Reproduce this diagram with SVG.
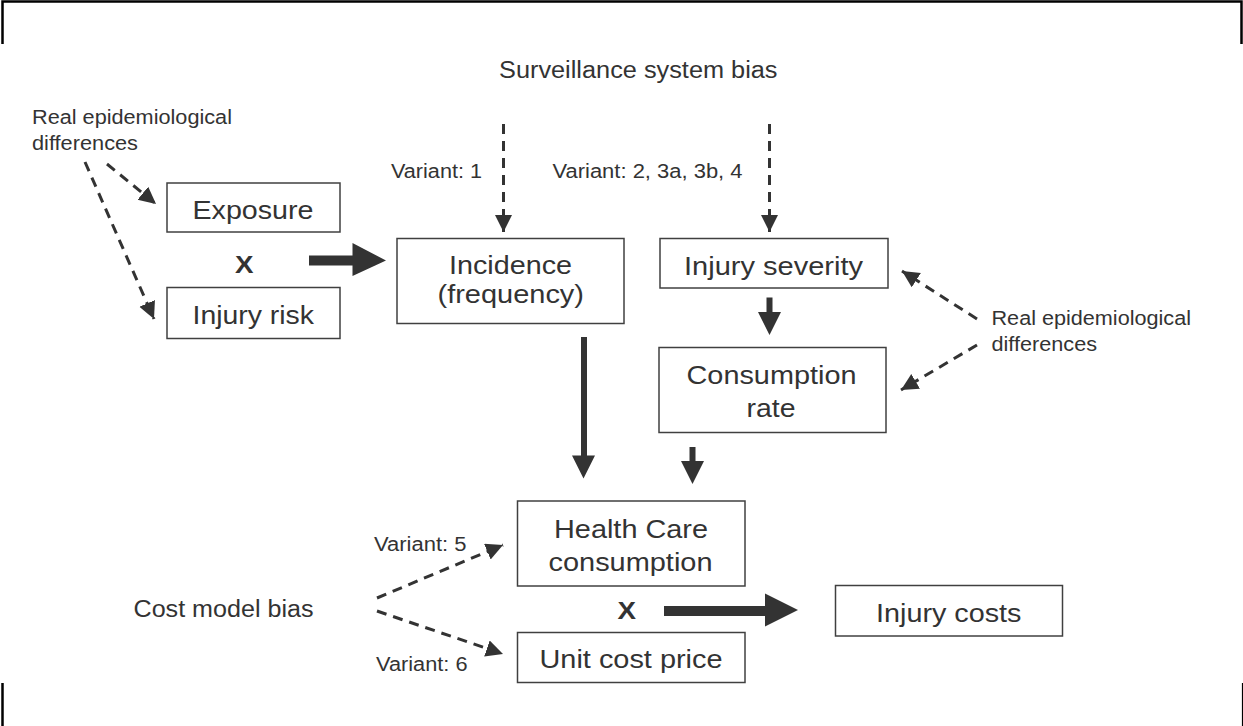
<svg xmlns="http://www.w3.org/2000/svg" width="1243" height="726" viewBox="0 0 1243 726">
<style>
.box{fill:#fff;stroke:#404040;stroke-width:1.5}
.t{font-family:"Liberation Sans",Arial,sans-serif;fill:#333}
.big{font-size:26px}
.med{font-size:23px}
.sm{font-size:20px}
.dash{fill:none;stroke:#333;stroke-width:3;stroke-dasharray:10 7}
.solid{fill:#333}
.frame{stroke:#000;stroke-width:2.5;fill:none}
</style>
<defs>
<marker id="ah" markerUnits="userSpaceOnUse" markerWidth="18" markerHeight="18" refX="17" refY="8.5" orient="auto" viewBox="0 0 18 18">
<path d="M0,0 L17,8.5 L0,17 z" fill="#333"/>
</marker>
</defs>
<g id="frame">
<path class="frame" d="M2.5,44 V1.5 H1241.5 V44"/>
<path class="frame" d="M2.5,683 V726"/>
<path d="M1242.5,683 V726" stroke="#000" stroke-width="1.2" fill="none"/>
</g>
<g id="connectors">
<line class="dash" x1="503.5" y1="124" x2="503.5" y2="232" marker-end="url(#ah)"/>
<line class="dash" x1="769.5" y1="124" x2="769.5" y2="232" marker-end="url(#ah)"/>
<line class="dash" x1="107" y1="164" x2="156" y2="204" marker-end="url(#ah)"/>
<line class="dash" x1="85" y1="162" x2="154" y2="319" marker-end="url(#ah)"/>
<line class="dash" x1="977" y1="319" x2="902" y2="271" marker-end="url(#ah)"/>
<line class="dash" x1="977" y1="345" x2="901" y2="390" marker-end="url(#ah)"/>
<line class="dash" x1="377" y1="598" x2="503" y2="545" marker-end="url(#ah)"/>
<line class="dash" x1="377" y1="611" x2="503" y2="654" marker-end="url(#ah)"/>
<polygon class="solid" points="309,255.5 352.5,255.5 352.5,243 386,260.5 352.5,276 352.5,265.5 309,265.5"/>
<polygon class="solid" points="664,606 765,606 765,593.5 798,610 765,626.5 765,616 664,616"/>
<polygon class="solid" points="581,337 587,337 587,455.5 595,455.5 583.5,478.5 572,455.5 581,455.5"/>
<polygon class="solid" points="689.5,447 695.5,447 695.5,461 704,461 692.5,484 681,461 689.5,461"/>
<polygon class="solid" points="766.5,297.5 772.5,297.5 772.5,312 781,312 769.5,335 758,312 766.5,312"/>
</g>
<g id="exposure">
<rect class="box" x="167" y="183" width="173" height="49"/>
<text class="t big" x="192.5" y="218.5" textLength="121" lengthAdjust="spacingAndGlyphs">Exposure</text>
</g>
<g id="injury-risk">
<rect class="box" x="167" y="287.5" width="173" height="51"/>
<text class="t big" x="192.5" y="323.5" textLength="121.5" lengthAdjust="spacingAndGlyphs">Injury risk</text>
</g>
<g id="x1"><text class="t" x="235" y="272.5" font-size="24" font-weight="bold" textLength="18.5" lengthAdjust="spacingAndGlyphs">X</text></g>
<g id="incidence">
<rect class="box" x="397" y="238.5" width="227" height="85"/>
<text class="t big" x="449" y="273.5" textLength="123" lengthAdjust="spacingAndGlyphs">Incidence</text>
<text class="t big" x="437.5" y="303" textLength="146.5" lengthAdjust="spacingAndGlyphs">(frequency)</text>
</g>
<g id="injury-severity">
<rect class="box" x="660" y="238.5" width="228" height="49.5"/>
<text class="t big" x="684" y="274.5" textLength="179" lengthAdjust="spacingAndGlyphs">Injury severity</text>
</g>
<g id="consumption-rate">
<rect class="box" x="659" y="347.5" width="227" height="85"/>
<text class="t big" x="686.5" y="383.5" textLength="170" lengthAdjust="spacingAndGlyphs">Consumption</text>
<text class="t big" x="746.5" y="416.5" textLength="49" lengthAdjust="spacingAndGlyphs">rate</text>
</g>
<g id="health-care">
<rect class="box" x="517.5" y="501" width="227.5" height="85"/>
<text class="t big" x="554" y="537.5" textLength="154" lengthAdjust="spacingAndGlyphs">Health Care</text>
<text class="t big" x="548.5" y="571" textLength="164" lengthAdjust="spacingAndGlyphs">consumption</text>
</g>
<g id="x2"><text class="t" x="617.5" y="618.5" font-size="24" font-weight="bold" textLength="18.5" lengthAdjust="spacingAndGlyphs">X</text></g>
<g id="unit-cost">
<rect class="box" x="517.5" y="632.5" width="227.5" height="50"/>
<text class="t big" x="539.5" y="668" textLength="183" lengthAdjust="spacingAndGlyphs">Unit cost price</text>
</g>
<g id="injury-costs">
<rect class="box" x="835.5" y="585.5" width="227" height="50.5"/>
<text class="t big" x="876" y="622" textLength="145.5" lengthAdjust="spacingAndGlyphs">Injury costs</text>
</g>
<g id="labels">
<text class="t med" x="499" y="78.3" textLength="278.5" lengthAdjust="spacingAndGlyphs">Surveillance system bias</text>
<text class="t sm" x="32" y="123.5" textLength="200" lengthAdjust="spacingAndGlyphs">Real epidemiological</text>
<text class="t sm" x="32" y="149.5" textLength="106" lengthAdjust="spacingAndGlyphs">differences</text>
<text class="t sm" x="391" y="178.3" textLength="91" lengthAdjust="spacingAndGlyphs">Variant: 1</text>
<text class="t sm" x="552.5" y="178.3" textLength="190" lengthAdjust="spacingAndGlyphs">Variant: 2, 3a, 3b, 4</text>
<text class="t sm" x="991.5" y="325" textLength="199.5" lengthAdjust="spacingAndGlyphs">Real epidemiological</text>
<text class="t sm" x="991.5" y="350.5" textLength="105.5" lengthAdjust="spacingAndGlyphs">differences</text>
<text class="t med" x="133.5" y="617" textLength="180" lengthAdjust="spacingAndGlyphs">Cost model bias</text>
<text class="t sm" x="374" y="550.7" textLength="92.5" lengthAdjust="spacingAndGlyphs">Variant: 5</text>
<text class="t sm" x="376" y="671" textLength="91.5" lengthAdjust="spacingAndGlyphs">Variant: 6</text>
</g>
</svg>
